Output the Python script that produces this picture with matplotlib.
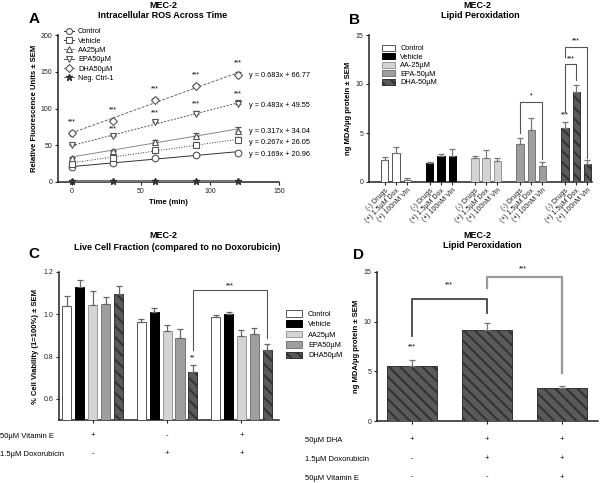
import numpy as np
import matplotlib.pyplot as plt
from matplotlib.lines import Line2D
from matplotlib.patches import Patch

plt.rcParams['font.family'] = ['Liberation Sans', 'DejaVu Sans']
plt.rcParams['hatch.linewidth'] = 1.5
plt.rcParams['axes.linewidth'] = 1.1
plt.rcParams['xtick.major.size'] = 2.5
plt.rcParams['ytick.major.size'] = 2.5
plt.rcParams['xtick.labelsize'] = 5
plt.rcParams['ytick.labelsize'] = 5

W, H = 600, 483

# ---- Panel A: intracellular ROS over time ----
times = [0, 30, 60, 90, 120]
ros_labels = ['Control', 'Vehicle', 'AA25µM', 'EPA50µM', 'DHA50µM', 'Neg. Ctrl-1']
ros_control = [20, 26, 32, 37, 40]
ros_vehicle = [25, 33, 44, 51, 57]
ros_aa = [32, 42, 55, 63, 70]
ros_epa = [50, 62, 82, 93, 106]
ros_dha = [67, 83, 112, 131, 145]
ros_neg = [1.5, 1.5, 1.5, 1.5, 1.5]
err_control = [2, 2, 1.5, 1.5, 2]
err_vehicle = [2, 2, 2, 3, 4]
err_aa = [2, 2, 2, 4, 5]
err_epa = [2, 2, 3, 4, 5]
err_dha = [2, 2, 2, 2, 4]
fit_slopes = [0.169, 0.267, 0.317, 0.483, 0.683]
fit_intercepts = [20.96, 26.05, 34.04, 49.55, 66.77]
stars_dha = ['***', '***', '***', '***', '***']
stars_epa = ['**', '***', '***', '***', '***']

# ---- Panel B: lipid peroxidation by treatment ----
b_groups = ['Control', 'Vehicle', 'AA-25µM', 'EPA-50µM', 'DHA-50µM']
b_conditions = ['(-) Drugs', '(+) 1.5µM Dox', '(+) 100nM Vin']
lipid_control = [2.2, 3.0, 0.25]
lipid_vehicle = [1.9, 2.7, 2.7]
lipid_aa = [2.4, 2.45, 2.1]
lipid_epa = [3.9, 5.35, 1.6]
lipid_dha = [5.5, 9.2, 1.8]
lerr_control = [0.4, 0.6, 0.15]
lerr_vehicle = [0.15, 0.15, 0.7]
lerr_aa = [0.25, 0.85, 0.3]
lerr_epa = [0.55, 1.2, 0.4]
lerr_dha = [0.65, 0.7, 0.4]

# ---- Panel C: live cell fraction ----
c_labels = ['Control', 'Vehicle', 'AA25µM', 'EPA50µM', 'DHA50µM']
via_control = [1.04, 0.965, 0.985]
via_vehicle = [1.13, 1.01, 1.0]
via_aa = [1.045, 0.92, 0.895]
via_epa = [1.05, 0.89, 0.905]
via_dha = [1.095, 0.725, 0.83]
verr_control = [0.045, 0.015, 0.01]
verr_vehicle = [0.03, 0.02, 0.01]
verr_aa = [0.065, 0.03, 0.03]
verr_epa = [0.03, 0.04, 0.03]
verr_dha = [0.04, 0.035, 0.03]
c_rows = ['50µM Vitamin E', '1.5µM Doxorubicin']
c_signs = [['+', '-', '+'], ['-', '+', '+']]

# ---- Panel D: DHA lipid peroxidation ----
d_values = [5.5, 9.2, 3.3]
d_err = [0.65, 0.7, 0.2]
d_rows = ['50µM DHA', '1.5µM Doxorubicin', '50µM Vitamin E']
d_signs = [['+', '+', '+'], ['-', '+', '+'], ['-', '-', '+']]

bar_face = ['white', 'black', '#d4d4d4', '#9e9e9e', '#5a5a5a']
bar_edge = ['#555555', 'black', '#999999', '#777777', '#333333']
bar_hatch = [None, None, None, None, '\\\\\\']


def fx(px):
    return px / W


def fy(py):
    return 1 - py / H


def axes_px(left, top, right, bottom):
    return fig.add_axes([fx(left), fy(bottom), (right - left) / W, (bottom - top) / H])


def style(ax):
    for s in ['top', 'right']:
        ax.spines[s].set_visible(False)
    ax.spines['left'].set_color('#222222')
    ax.spines['bottom'].set_color('#222222')
    ax.tick_params(colors='#222222', pad=1.5)


def up_err(ax, x, y, e, color='#444444'):
    ax.errorbar(x, y, yerr=[np.zeros(len(e)), e], fmt='none', ecolor=color,
                elinewidth=0.9, capsize=2.5, capthick=0.9, zorder=4)


fig = plt.figure(figsize=(6, 4.83), dpi=100)

# titles and panel letters
for x, y, s in [(163, 6, 'MEC-2'), (163, 16, 'Intracellular ROS Across Time'),
                (477, 6, 'MEC-2'), (480, 16, 'Lipid Peroxidation'),
                (163, 236, 'MEC-2'), (177, 247, 'Live Cell Fraction (compared to no Doxorubicin)'),
                (477, 236, 'MEC-2'), (482, 246, 'Lipid Peroxidation')]:
    fig.text(fx(x), fy(y), s, ha='center', va='center', fontsize=6.5, fontweight='bold')
for x, y, s in [(34, 19, 'A'), (355, 20, 'B'), (34, 254, 'C'), (358, 255, 'D')]:
    fig.text(fx(x), fy(y), s, ha='center', va='center', fontsize=11, fontweight='bold')

# ================= Panel A =================
axA = axes_px(58, 35, 279, 182)
style(axA)
series = [ros_control, ros_vehicle, ros_aa, ros_epa, ros_dha]
errs = [err_control, err_vehicle, err_aa, err_epa, err_dha]
markers = ['o', 's', '^', 'v', 'D']
msizes = [4.8, 4.8, 4.8, 4.8, 4.5]
lstyles = ['-', ':', '-', (0, (2, 1.5)), (0, (3, 1.5))]
lcolors = ['#333333', '#333333', '#888888', '#555555', '#666666']
xfit = np.array([0, 120])
for i in range(5):
    axA.plot(xfit, fit_slopes[i] * xfit + fit_intercepts[i], ls=lstyles[i],
             color=lcolors[i], lw=0.7, zorder=2)
    up_err(axA, times, series[i], errs[i], color='#555555')
    axA.plot(times, series[i], ls='none', marker=markers[i], ms=msizes[i],
             mfc='white', mec='#555555', mew=0.8, zorder=5)
    yend = fit_slopes[i] * 120 + fit_intercepts[i]
    axA.text(128, yend - 4, 'y = %.3fx + %.2f' % (fit_slopes[i], fit_intercepts[i]),
             fontsize=5.3, va='center', ha='left', clip_on=False)
axA.plot(times, ros_neg, color='#777777', lw=1.5, marker='*', ms=4.5,
         mfc='#333333', mec='#333333', zorder=3, clip_on=False)
for t, yv, e, s in zip(times, ros_dha, err_dha, stars_dha):
    axA.text(t, yv + e + 8, s, ha='center', va='bottom', fontsize=5)
for t, yv, e, s in zip(times, ros_epa, err_epa, stars_epa):
    axA.text(t, yv + e + 4, s, ha='center', va='bottom', fontsize=5)
axA.set_xlim(-10, 150)
axA.set_ylim(0, 200)
axA.set_xticks([0, 50, 100, 150])
axA.set_yticks([0, 50, 100, 150, 200])
axA.set_xlabel('Time (min)', fontsize=5.5, fontweight='bold', labelpad=3)
axA.set_ylabel('Relative Fluorescence Units ± SEM', fontsize=5.5, fontweight='bold', labelpad=2)
handlesA = [Line2D([], [], color=lcolors[i], ls='-', lw=0.7, marker=markers[i], ms=msizes[i] - 0.5,
                   mfc='white', mec='#555555', mew=0.8) for i in range(5)]
handlesA.append(Line2D([], [], color='#777777', lw=0.7, marker='*', ms=4.5, mfc='#333333', mec='#333333'))
axA.legend(handlesA, ros_labels, loc='upper left', bbox_to_anchor=(fx(64), fy(28)),
           bbox_transform=fig.transFigure, frameon=False, fontsize=5.3,
           handlelength=1.3, handletextpad=0.6, labelspacing=0.3, borderaxespad=0, borderpad=0)

# ================= Panel B =================
axB = axes_px(369, 35, 592, 182)
style(axB)
b_vals = [lipid_control, lipid_vehicle, lipid_aa, lipid_epa, lipid_dha]
b_errs = [lerr_control, lerr_vehicle, lerr_aa, lerr_epa, lerr_dha]
b_pos = []
for g in range(5):
    xs = [4 * g + k for k in range(3)]
    b_pos += xs
    axB.bar(xs, b_vals[g], width=0.65, color=bar_face[g], edgecolor=bar_edge[g],
            hatch=bar_hatch[g], lw=0.7, zorder=3)
    up_err(axB, xs, b_vals[g], b_errs[g], color='#777777')
axB.set_xlim(-1.4, 18.4)
axB.set_ylim(0, 15)
axB.set_yticks([0, 5, 10, 15])
axB.set_xticks(b_pos)
axB.set_xticklabels(b_conditions * 5, rotation=45, ha='right', rotation_mode='anchor', fontsize=5)
axB.tick_params(axis='x', length=2)
axB.set_ylabel('ng MDA/µg protein ± SEM', fontsize=5.5, fontweight='bold', labelpad=3)
handlesB = [Patch(facecolor=bar_face[g], edgecolor=bar_edge[g], hatch=bar_hatch[g], lw=0.7) for g in range(5)]
axB.legend(handlesB, b_groups, loc='upper left', bbox_to_anchor=(fx(382), fy(45)),
           bbox_transform=fig.transFigure, frameon=False, fontsize=5.3,
           handlelength=1.8, handleheight=0.8, handletextpad=0.7, labelspacing=0.15,
           borderaxespad=0, borderpad=0)


def bracket(ax, x1, x2, y, y1, y2, color='#555555', lw=0.8):
    ax.plot([x1, x1, x2, x2], [y1, y, y, y2], color=color, lw=lw, zorder=5, clip_on=False)


bracket(axB, 12, 14, 8.2, 5.0, 2.3)
axB.text(13, 8.4, '*', ha='center', va='bottom', fontsize=5)
bracket(axB, 16, 17, 12.0, 7.1, 10.4)
axB.text(16.5, 12.2, '***', ha='center', va='bottom', fontsize=5)
bracket(axB, 16, 18, 13.8, 12.8, 2.5)
axB.text(17, 14.0, '***', ha='center', va='bottom', fontsize=5)
axB.text(16, 6.45, '***', ha='center', va='bottom', fontsize=5)

# ================= Panel C =================
axC = axes_px(59, 272, 279, 420)
style(axC)
c_vals = [via_control, via_vehicle, via_aa, via_epa, via_dha]
c_errs = [verr_control, verr_vehicle, verr_aa, verr_epa, verr_dha]
centers = np.array([0, 5.75, 11.5])
for k in range(5):
    xs = centers + (k - 2)
    axC.bar(xs, c_vals[k], width=0.7, bottom=0, color=bar_face[k], edgecolor=bar_edge[k],
            hatch=bar_hatch[k], lw=0.7, zorder=3)
    up_err(axC, xs, c_vals[k], c_errs[k], color='#666666')
axC.set_xlim(-2.6, 14.4)
axC.set_ylim(0.5, 1.2)
axC.set_yticks([0.6, 0.8, 1.0, 1.2])
axC.set_yticklabels(['0.6', '0.8', '1.0', '1.2'])
axC.set_xticks(centers)
axC.set_xticklabels([])
axC.set_ylabel('% Cell Viability (1=100%) ± SEM', fontsize=5.5, fontweight='bold', labelpad=3)
bracket(axC, centers[1] + 2, centers[2] + 2, 1.115, 0.83, 0.89)
axC.text((centers[1] + centers[2]) / 2 + 2, 1.12, '***', ha='center', va='bottom', fontsize=5)
axC.text(centers[1] + 2, 0.775, '**', ha='center', va='bottom', fontsize=5)
handlesC = [Patch(facecolor=bar_face[k], edgecolor=bar_edge[k], hatch=bar_hatch[k], lw=0.7) for k in range(5)]
axC.legend(handlesC, c_labels, loc='upper left', bbox_to_anchor=(fx(286), fy(310)),
           bbox_transform=fig.transFigure, frameon=False, fontsize=5.3,
           handlelength=2.2, handleheight=1.0, handletextpad=0.8, labelspacing=0.35,
           borderaxespad=0, borderpad=0)
for r, (row, signs) in enumerate(zip(c_rows, c_signs)):
    ypx = 437 + 18 * r
    fig.text(fx(0), fy(ypx), row, fontsize=5.5, va='center', ha='left')
    for cx, s in zip(centers, signs):
        xf = fig.transFigure.inverted().transform(axC.transData.transform((cx, 0.5)))[0]
        fig.text(xf, fy(ypx - 1), s, fontsize=5.5, va='center', ha='center')

# ================= Panel D =================
axD = axes_px(377, 272, 598, 421)
style(axD)
xd = np.arange(3)
axD.bar(xd, d_values, width=0.67, color=bar_face[4], edgecolor=bar_edge[4],
        hatch=bar_hatch[4], lw=0.7, zorder=3)
up_err(axD, xd, d_values, d_err, color='#777777')
axD.set_xlim(-0.47, 2.48)
axD.set_ylim(0, 15)
axD.set_yticks([0, 5, 10, 15])
axD.set_xticks(xd)
axD.set_xticklabels([])
axD.set_ylabel('ng MDA/µg protein ± SEM', fontsize=5.5, fontweight='bold', labelpad=3)
bracket(axD, 0, 1, 12.25, 8.56, 10.85, color='#444444', lw=1.3)
axD.text(0.49, 13.4, '***', ha='center', va='bottom', fontsize=5)
bracket(axD, 1, 2, 14.47, 13.36, 4.83, color='#999999', lw=1.6)
axD.text(1.48, 15.0, '***', ha='center', va='bottom', fontsize=5)
axD.text(0, 7.15, '***', ha='center', va='bottom', fontsize=5)
for r, (row, signs) in enumerate(zip(d_rows, d_signs)):
    ypx = 441 + 18.5 * r
    fig.text(fx(305), fy(ypx), row, fontsize=5.5, va='center', ha='left')
    for cx, s in zip(xd, signs):
        xf = fig.transFigure.inverted().transform(axD.transData.transform((cx, 0)))[0]
        fig.text(xf, fy(ypx - 1), s, fontsize=5.5, va='center', ha='center')

fig.savefig('out.png', dpi=100)
